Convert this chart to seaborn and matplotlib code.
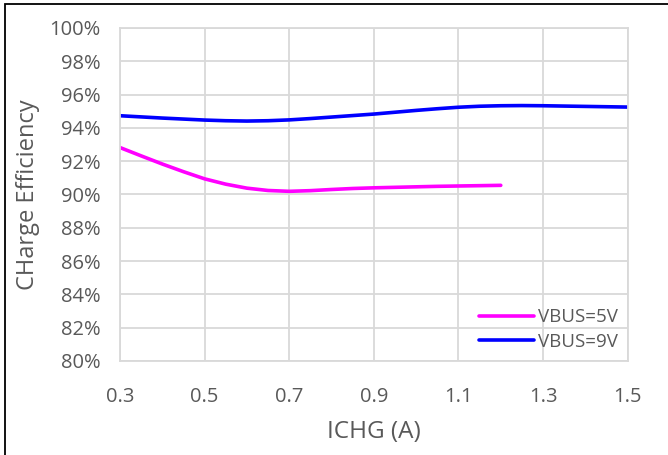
import matplotlib
matplotlib.use("Agg")
import matplotlib.pyplot as plt
import seaborn as sns
import pandas as pd
from matplotlib.ticker import FuncFormatter, MultipleLocator
from matplotlib.patches import Rectangle

# Charge current (A) and measured efficiency (%) for each input voltage
ichg_5v = [0.30, 0.35, 0.40, 0.45, 0.50, 0.55, 0.60, 0.65, 0.70, 0.75,
           0.80, 0.85, 0.90, 0.95, 1.00, 1.05, 1.10, 1.15, 1.20]
eff_5v = [92.82, 92.32, 91.83, 91.37, 90.94, 90.62, 90.38, 90.24, 90.19, 90.23,
          90.30, 90.36, 90.40, 90.43, 90.46, 90.49, 90.51, 90.53, 90.55]

ichg_9v = [0.30, 0.35, 0.40, 0.45, 0.50, 0.55, 0.60, 0.65, 0.70, 0.75,
           0.80, 0.85, 0.90, 0.95, 1.00, 1.05, 1.10, 1.15, 1.20, 1.25,
           1.30, 1.35, 1.40, 1.45, 1.50]
eff_9v = [94.73, 94.66, 94.59, 94.53, 94.47, 94.43, 94.41, 94.43, 94.48, 94.56,
          94.65, 94.74, 94.83, 94.94, 95.05, 95.15, 95.24, 95.30, 95.33, 95.34,
          95.33, 95.31, 95.29, 95.27, 95.25]

series_names = ["VBUS=5V", "VBUS=9V"]
series_colors = ["#FF00FF", "#0000FF"]

x_ticks = [0.3, 0.5, 0.7, 0.9, 1.1, 1.3, 1.5]

df = pd.concat([
    pd.DataFrame({"ICHG": ichg_5v, "Eff": eff_5v, "Series": series_names[0]}),
    pd.DataFrame({"ICHG": ichg_9v, "Eff": eff_9v, "Series": series_names[1]}),
])

sns.set_style("white")
plt.rcParams["font.family"] = ["Open Sans", "DejaVu Sans"]
text_gray = "#595959"
grid_gray = "#D9D9D9"

fig = plt.figure(figsize=(6.68, 4.55), dpi=100)
ax = fig.add_axes([0.1796, 0.2066, 0.7601, 0.7319])

sns.lineplot(data=df, x="ICHG", y="Eff", hue="Series",
             hue_order=series_names, palette=series_colors,
             linewidth=2.6, sort=False, estimator=None, ax=ax)

ax.set_xlim(0.3, 1.5)
ax.set_ylim(80, 100)
ax.set_xticks(x_ticks)
ax.set_xticklabels([f"{v:.1f}" for v in x_ticks])
ax.yaxis.set_major_locator(MultipleLocator(2))
ax.yaxis.set_major_formatter(FuncFormatter(lambda v, p: f"{v:.0f}%"))

ax.grid(True, color=grid_gray, linewidth=1.3)
ax.set_axisbelow(True)
for s in ax.spines.values():
    s.set_color(grid_gray)
    s.set_linewidth(1.3)

ax.tick_params(axis="both", length=0, labelsize=14.5, colors=text_gray)
ax.tick_params(axis="x", pad=19)
ax.tick_params(axis="y", pad=14)

ax.set_xlabel("ICHG (A)", fontsize=17.5, color=text_gray, labelpad=9)
ax.set_ylabel("CHarge Efficiency", fontsize=17, color=text_gray, labelpad=7)

leg = ax.legend(loc="lower right", bbox_to_anchor=(1.0, 0.0), frameon=False,
                fontsize=13.5, handlelength=2.9, handletextpad=0.2,
                labelspacing=0.35, borderaxespad=0.15)
for t in leg.get_texts():
    t.set_color(text_gray)
for h in leg.get_lines():
    h.set_linewidth(2.6)

# thin dark frame around the chart area
fig.patches.append(Rectangle((5 / 668, -0.1), 1.2, 1.1 - 4 / 455,
                             transform=fig.transFigure, fill=False,
                             edgecolor="black", linewidth=1.3))

fig.savefig("out.png", dpi=100)
